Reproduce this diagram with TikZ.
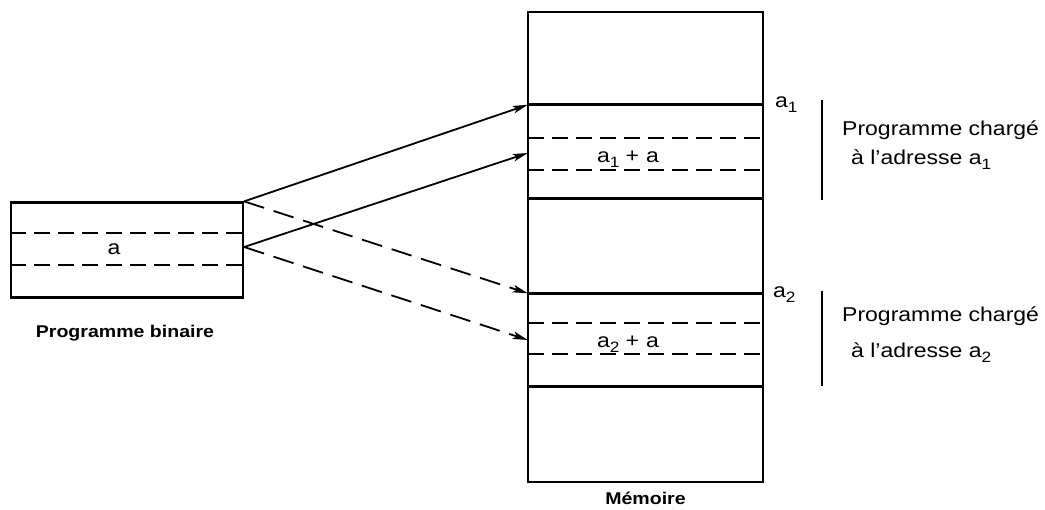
\documentclass[tikz,border=0pt]{standalone}
\usepackage{fontspec}
\setmainfont{Liberation Sans}[FakeStretch=1.15]
\usetikzlibrary{arrows.meta,calc}
\newcommand\subidx[1]{\raisebox{-0.4ex}{\fontsize{15}{15}\selectfont #1}}
\begin{document}
\begin{tikzpicture}[x=1pt,y=-1pt,
  box/.style={draw, line width=2.2pt, inner sep=0pt},
  blk/.style={inner sep=0pt, minimum width=235pt, minimum height=93pt},
  thickline/.style={line width=3.2pt},
  dsh/.style={line width=1.8pt, dash pattern=on 16pt off 8pt},
  arr/.style={line width=1.8pt, -{Stealth[length=15pt,width=7.5pt,inset=3.5pt]}},
  darr/.style={arr, dash pattern=on 21pt off 10pt},
  lbl/.style={font=\fontsize{20}{24}\selectfont, inner sep=0pt},
  captxt/.style={font=\bfseries\fontsize{17}{20}\selectfont, inner sep=0pt},
  bar/.style={line width=1.3pt}]
\useasboundingbox (0,0) rectangle (1045,510);
% left box
\node[box, minimum width=232pt, minimum height=95pt] (pb) at (127,250) {};
\draw[dsh] (pb.west |- 0,233) -- (pb.east |- 0,233);
\draw[dsh] (pb.west |- 0,265) -- (pb.east |- 0,265);
\node[lbl, anchor=base] (la) at (114,255) {a};
\node[captxt, anchor=base] (lpb) at (125,338) {Programme binaire};
% memory
\node[box, minimum width=235pt, minimum height=470pt] (mem) at (645.5,247) {};
\node[blk] (b1) at (645.5,151.5) {};
\node[blk] (b2) at (645.5,340) {};
\draw[thickline] (b1.north west) -- (b1.north east);
\draw[thickline] (b1.south west) -- (b1.south east);
\draw[thickline] (b2.north west) -- (b2.north east);
\draw[thickline] (b2.south west) -- (b2.south east);
\draw[dsh] (b1.west |- 0,138) -- (b1.east |- 0,138);
\draw[dsh] (b1.west |- 0,170) -- (b1.east |- 0,170);
\draw[dsh] (b2.west |- 0,323) -- (b2.east |- 0,323);
\draw[dsh] (b2.west |- 0,354) -- (b2.east |- 0,354);
\node[lbl, anchor=base] (l1) at (628,163) {a\subidx{1}\hspace{6pt}+\hspace{7pt}a};
\node[lbl, anchor=base] (l2) at (628,348) {a\subidx{2}\hspace{6pt}+\hspace{7pt}a};
\node[captxt, anchor=base] (lm) at (645.5,505) {Mémoire};
% address labels
\node[lbl, anchor=base west] (a1) at (775,108) {a\subidx{1}};
\node[lbl, anchor=base west] (a2) at (773,298) {a\subidx{2}};
\draw[bar] (822,100) -- (822,200);
\draw[bar] (822,291) -- (822,386);
\node[lbl, anchor=base west] (t1) at (842,136) {Programme chargé};
\node[lbl, anchor=base west] (t2) at (851,165) {à l’adresse a\subidx{1}};
\node[lbl, anchor=base west] (t3) at (842,322) {Programme chargé};
\node[lbl, anchor=base west] (t4) at (851,358) {à l’adresse a\subidx{2}};
% arrows
\coordinate (s1) at ($(pb.north east)$);
\coordinate (s2) at ($(pb.east)+(0,-3)$);
\coordinate (e2) at (b1.west |- 0,153);
\draw[arr] (s1) -- (b1.north west);
\draw[arr] (s2) -- (e2);
\draw[darr] (s1) -- (b2.north west);
\draw[darr] (s2) -- (b2.west);
\end{tikzpicture}
\end{document}
